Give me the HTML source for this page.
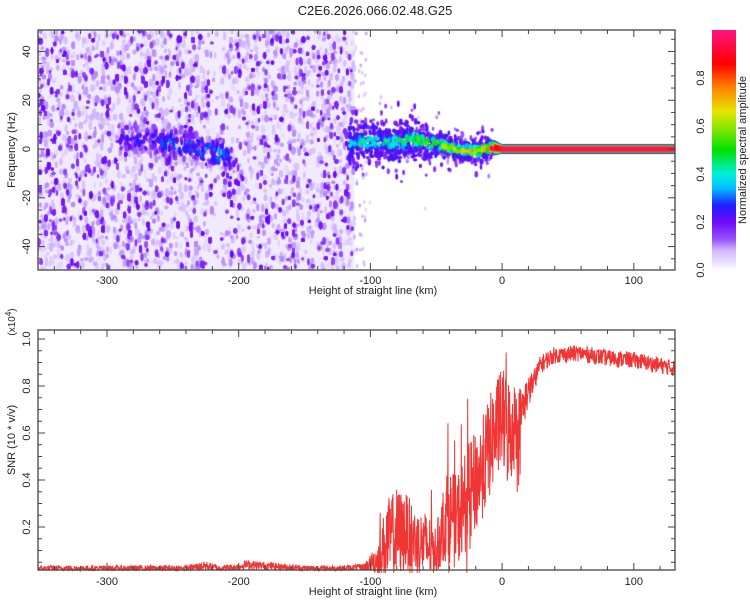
<!DOCTYPE html>
<html><head><meta charset="utf-8">
<style>
body{margin:0;background:#fff;width:750px;height:600px;overflow:hidden;font-family:"Liberation Sans",sans-serif;}
#root{position:relative;width:750px;height:600px;}
canvas{position:absolute;}
svg{position:absolute;left:0;top:0;}
</style></head><body>
<div id="root">
<canvas id="hm" width="637" height="240" style="left:38px;top:30px"></canvas>
<canvas id="cb" width="24" height="240" style="left:712px;top:30px"></canvas>
<svg id="sv" width="750" height="600"></svg>
</div>
<script>
// ---- data ----
const xTicks = [-300,-200,-100,0,100];
const freqTicks = [-40,-20,0,20,40];
const snrTicks = [0.2,0.4,0.6,0.8,1.0];
const cbTicks = [0.0,0.2,0.4,0.6,0.8];
// noisy background region (km)
const noiseStart = -352, noiseEnd = -112;
// weak tilted cluster
const clusterKm   = [-290,-275,-260,-245,-230,-215,-205];
const clusterFreq = [4,4,3,2,0,-2,-3];
const clusterAmp  = [0.18,0.2,0.22,0.25,0.24,0.27,0.2];
// main signal band
const bandKm    = [-116,-105,-95,-85,-75,-68,-60,-50,-40,-30,-20,-10,-6,0,60,131];
const bandFreq  = [2,3,3,2.5,3,4.5,3,2,0.5,-0.5,-1,0.5,0.5,0,0,0];
const bandWidth = [3.5,3.5,3.5,3.5,3.5,3.5,3,2.5,2.2,2.2,2.2,2,1.6,1,1,1];
const bandAmp   = [0.33,0.36,0.37,0.38,0.4,0.42,0.44,0.46,0.5,0.55,0.58,0.6,0.85,0.97,0.97,0.97];
// SNR envelope (x10^4)
const snrKm    = [-352,-300,-240,-225,-215,-200,-195,-150,-120,-105,-95,-88,-80,-72,-65,-57,-50,-42,-35,-27,-17,-7,0,5,13,18,24,29,39,59,79,100,131];
const snrMean  = [0.025,0.025,0.025,0.035,0.025,0.03,0.04,0.025,0.025,0.03,0.06,0.14,0.17,0.18,0.14,0.12,0.1,0.26,0.22,0.32,0.42,0.58,0.66,0.6,0.66,0.75,0.82,0.89,0.93,0.94,0.92,0.91,0.875];
const snrNoise = [0.012,0.012,0.012,0.02,0.012,0.015,0.02,0.012,0.012,0.015,0.06,0.17,0.2,0.16,0.13,0.15,0.1,0.2,0.2,0.22,0.22,0.22,0.22,0.25,0.14,0.08,0.05,0.04,0.035,0.035,0.035,0.035,0.035];

// ---- geometry ----
const X0=38,X1=675,kmMin=-352.4,kmMax=131.3;
const xs=k=>X0+(k-kmMin)/(kmMax-kmMin)*(X1-X0);
const T0=30,T1=270,fMax=48.8,fMin=-49.6;
const yf=f=>T0+(fMax-f)/(fMax-fMin)*(T1-T0);
const B0=330,B1=570;
const ys=v=>574-v*235;
const interp=(ax,ay,x)=>{if(x<=ax[0])return ay[0];for(let i=1;i<ax.length;i++)if(x<=ax[i]){const t=(x-ax[i-1])/(ax[i]-ax[i-1]);return ay[i-1]+t*(ay[i]-ay[i-1]);}return ay[ay.length-1];};
let seed=12345;const rnd=()=>{seed=(seed*1103515245+12345)%2147483648;return seed/2147483648;};
const gau=()=>{let s=0;for(let i=0;i<4;i++)s+=rnd();return (s-2)*1.7;};

const stops=[[0,[255,255,255]],[0.03,[236,225,255]],[0.08,[210,185,255]],[0.13,[150,80,250]],[0.2,[110,10,250]],[0.27,[30,30,255]],[0.34,[0,190,255]],[0.4,[0,240,220]],[0.5,[0,225,0]],[0.6,[150,230,0]],[0.66,[230,230,0]],[0.76,[255,130,0]],[0.86,[255,0,0]],[1,[255,20,130]]];
function cmap(v){v=Math.max(0,Math.min(1,v));for(let i=1;i<stops.length;i++)if(v<=stops[i][0]){const a=stops[i-1],b=stops[i],t=(v-a[0])/(b[0]-a[0]);return `rgb(${a[1].map((c,j)=>Math.round(c+t*(b[1][j]-c))).join(',')})`;}return 'rgb(255,20,130)';}

// ---- heatmap ----
const hc=document.getElementById('hm').getContext('2d');
const W=637,H=240;
const pxk=k=>xs(k)-X0, pyf=f=>yf(f)-T0;
let blobs=[];
const nx0=pxk(noiseStart),nx1=pxk(noiseEnd);
// light lavender wash
hc.fillStyle='rgba(225,210,255,0.45)';hc.fillRect(nx0,0,nx1-nx0,H);
// background speckle
for(let i=0;i<15000;i++){const x=nx0+rnd()*(nx1-nx0);const km=kmMin+x/(X1-X0)*(kmMax-kmMin);
 const stripe=(km>-222&&km<-212)?0.45:1; if(rnd()>stripe)continue;
 const p=rnd();const v=p<0.22?0.13+rnd()*0.08:0.035+rnd()*0.07;
 blobs.push([x,rnd()*H,1.8+rnd()*1.7,3+rnd()*5,v]);}
// scattered beyond edge
for(let i=0;i<60;i++){const x=nx1+rnd()*12;blobs.push([x,rnd()*H,2,4,0.04+rnd()*0.06]);}
// cluster
for(let i=0;i<400;i++){const km=clusterKm[0]+rnd()*(clusterKm[clusterKm.length-1]-clusterKm[0]);
 const cf=interp(clusterKm,clusterFreq,km),ca=interp(clusterKm,clusterAmp,km);const d=gau()*4;
 blobs.push([pxk(km),pyf(cf+d),2+rnd()*1.5,3+rnd()*5,ca*Math.exp(-d*d/40)*(0.6+rnd()*0.75)]);}
// ragged band
for(let km=bandKm[0];km<bandKm[12];km+=0.4){const bf=interp(bandKm,bandFreq,km),bw=interp(bandKm,bandWidth,km),ba=interp(bandKm,bandAmp,km);
 for(let j=0;j<3;j++){const d=gau()*bw*1.1;const v=ba*Math.exp(-Math.pow(d/(bw*1.1),2))*(0.5+rnd()*0.8);
  blobs.push([pxk(km),pyf(bf+d),2+rnd()*2,3+rnd()*3,Math.max(v,0.15+rnd()*0.1)]);}
 if(rnd()<0.6){const d=gau()*bw*2.2;blobs.push([pxk(km),pyf(bf+d),2+rnd(),3+rnd()*4,0.1+rnd()*0.12]);}
 if(rnd()<0.1&&km<-40){const d=gau()*bw*4;blobs.push([pxk(km),pyf(bf+d),2,4,0.04+rnd()*0.1]);}}
blobs.sort((a,b)=>a[4]-b[4]);
blobs.forEach(b=>{if(b[4]<0.02)return;hc.fillStyle=cmap(b[4]);hc.beginPath();hc.ellipse(b[0],b[1],b[2]/2+0.3,b[3]/2,0,0,Math.PI*2);hc.fill();});
// straight band
for(let px=Math.floor(pxk(bandKm[12]));px<W;px++){const km=kmMin+px/(X1-X0)*(kmMax-kmMin);
 const bf=interp(bandKm,bandFreq,km),bw=interp(bandKm,bandWidth,km),ba=interp(bandKm,bandAmp,km);
 for(let py=0;py<H;py++){const f=fMax-(py+0.5)/(T1-T0)*(fMax-fMin);const d=Math.abs(f-bf);if(d>bw*2)continue;
  const v=ba*(d<bw*0.8?1:Math.max(0,1-(d-bw*0.8)/(bw*1.3)));if(v>0.02){hc.fillStyle=cmap(v);hc.fillRect(px,py,1,1);}}}
// colorbar
const cc=document.getElementById('cb').getContext('2d');
for(let py=0;py<240;py++){cc.fillStyle=cmap(1-(py+0.5)/240);cc.fillRect(0,py,24,1);}

// ---- svg ----
const NS='http://www.w3.org/2000/svg',sv=document.getElementById('sv');
function el(tag,attrs,txt){const e=document.createElementNS(NS,tag);for(const k in attrs)e.setAttribute(k,attrs[k]);if(txt!==undefined)e.textContent=txt;sv.appendChild(e);return e;}
function txt(x,y,s,size,rot,name){const e=el('text',{x:x,y:y,'font-size':size,'text-anchor':'middle','fill':'#222','font-family':'"Liberation Sans",sans-serif',transform:rot?`rotate(-90 ${x} ${y})`:''},s);

return e;}
// SNR line
let pts=[];for(let k=kmMin;k<=kmMax;k+=0.22){const m=interp(snrKm,snrMean,k),n=interp(snrKm,snrNoise,k);let r=(rnd()-0.5)*2;if(n>0.05&&rnd()<0.05)r*=2.0;let v=Math.max(0.005,m+n*r);pts.push(xs(k).toFixed(2)+','+Math.max(B0,ys(v)).toFixed(2));}
const line=el('polyline',{points:pts.join(' '),fill:'none',stroke:'#f03535','stroke-width':1});


// frames and ticks
function frame(top,bot,name){const r=el('rect',{x:X0,y:top,width:X1-X0,height:bot-top,fill:'none',stroke:'#444','stroke-width':1.3});


 for(let k=-340;k<=kmMax;k+=20){const x=xs(k),L=(k%100===0)?7:4;el('line',{x1:x,x2:x,y1:bot,y2:bot-L,stroke:'#444'});el('line',{x1:x,x2:x,y1:top,y2:top+L,stroke:'#444'});}}
frame(T0,T1,'top-plot-frame');frame(B0,B1,'bottom-plot-frame');
for(let f=-45;f<=45;f+=5){const y=yf(f),L=f%20===0?7:4;el('line',{x1:X0,x2:X0+L,y1:y,y2:y,stroke:'#444'});el('line',{x1:X1,x2:X1-L,y1:y,y2:y,stroke:'#444'});}
for(let v=0.05;v<=1.03;v+=0.05){const y=ys(v),L=Math.abs(v*5-Math.round(v*5))<0.01?7:4;el('line',{x1:X0,x2:X0+L,y1:y,y2:y,stroke:'#444'});el('line',{x1:X1,x2:X1-L,y1:y,y2:y,stroke:'#444'});}
xTicks.forEach(k=>{txt(xs(k),284,String(k),11,false,'top-x-tick-label');txt(xs(k),585,String(k),11,false,'bottom-x-tick-label');});
freqTicks.forEach(f=>txt(30,yf(f),String(f),11,true,'freq-tick-label'));
snrTicks.forEach(v=>txt(30,ys(v),v.toFixed(1),11,true,'snr-tick-label'));
cbTicks.forEach(v=>txt(704,270-v*240,v.toFixed(1),11,true,'colorbar-tick-label'));
txt(375,15,'C2E6.2026.066.02.48.G25',13,false,'chart-title');
txt(373,294,'Height of straight line (km)',11,false,'top-x-axis-title');
txt(373,595,'Height of straight line (km)',11,false,'bottom-x-axis-title');
txt(15,150,'Frequency (Hz)',11,true,'freq-axis-title');
txt(15,440,'SNR (10 * v/v)',11,true,'snr-axis-title');
const sc=txt(15,322,'(x10',10,true,'snr-scale-label');
const sup=document.createElementNS(NS,'tspan');sup.setAttribute('dy','-4');sup.setAttribute('font-size','8');sup.textContent='4';sc.appendChild(sup);
const cl=document.createElementNS(NS,'tspan');cl.setAttribute('dy','4');cl.textContent=')';sc.appendChild(cl);
txt(746,150,'Normalized spectral amplitude',11,true,'colorbar-title');
</script>
</body></html>
